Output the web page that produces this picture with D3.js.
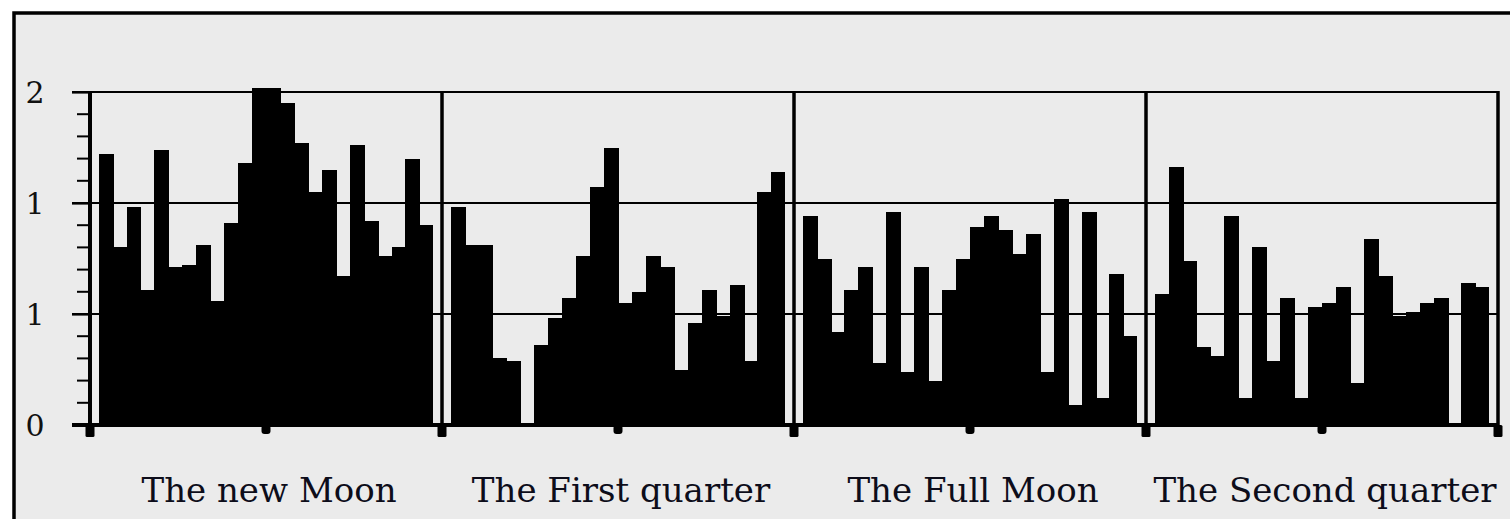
<!DOCTYPE html>
<html>
<head>
<meta charset="utf-8">
<script src="https://cdn.jsdelivr.net/npm/d3@7"></script>
<style>
  html, body { margin: 0; padding: 0; background: #ffffff; }
  svg { display: block; }
</style>
</head>
<body>
<svg id="chart" width="1510" height="519"></svg>
<script>
// ---- data ----
const categories = ["The new Moon", "The First quarter", "The Full Moon", "The Second quarter"];
const newMoon = [1.22, 0.80, 0.98, 0.61, 1.24, 0.71, 0.72, 0.81, 0.56, 0.91, 1.18, 1.52,
                 1.52, 1.45, 1.27, 1.05, 1.15, 0.67, 1.26, 0.92, 0.76, 0.80, 1.20, 0.90];
const firstQuarter = [0.98, 0.81, 0.81, 0.30, 0.29, 0.01, 0.36, 0.48, 0.57, 0.76, 1.07, 1.25,
                      0.55, 0.60, 0.76, 0.71, 0.25, 0.46, 0.61, 0.49, 0.63, 0.29, 1.05, 1.14];
const fullMoon = [0.94, 0.75, 0.42, 0.61, 0.71, 0.28, 0.96, 0.24, 0.71, 0.20, 0.61, 0.75,
                  0.89, 0.94, 0.88, 0.77, 0.86, 0.24, 1.02, 0.09, 0.96, 0.12, 0.68, 0.40];
const secondQuarter = [0.59, 1.16, 0.74, 0.35, 0.31, 0.94, 0.12, 0.80, 0.29, 0.57, 0.12, 0.53,
                       0.55, 0.62, 0.19, 0.84, 0.67, 0.49, 0.51, 0.55, 0.57, 0.01, 0.64, 0.62];
const yTickValues = [0, 0.5, 1, 1.5];
const yTickLabels = ["0", "1", "1", "2"];

const series = [newMoon, firstQuarter, fullMoon, secondQuarter];

// ---- layout ----
const svg = d3.select("#chart");
const W = 1510, H = 519;
const plot = { left: 90, right: 1498, top: 92, bottom: 425 };

// outer frame
svg.append("rect").attr("x", 0).attr("y", 0).attr("width", W).attr("height", H).attr("fill", "#ffffff");
svg.append("rect").attr("x", 14).attr("y", 13).attr("width", W + 20).attr("height", H + 20)
  .attr("fill", "#ebebeb").attr("stroke", "#000").attr("stroke-width", 3.5);

const x = d3.scaleBand().domain(categories).range([plot.left, plot.right]).padding(0);
const y = d3.scaleLinear().domain([0, 1.5]).range([plot.bottom, plot.top]);
const xi = d3.scaleBand().domain(d3.range(24)).range([0, x.bandwidth()])
  .paddingInner(0).paddingOuter(0.62);

// bars
const gBars = svg.append("g").attr("shape-rendering", "crispEdges");
categories.forEach((c, gi) => {
  gBars.selectAll(null).data(series[gi]).join("rect")
    .attr("x", (d, i) => Math.round(x(c) + xi(i)))
    .attr("width", (d, i) => Math.round(x(c) + xi(i) + xi.bandwidth()) - Math.round(x(c) + xi(i)) + (i < 23 ? 1 : 0))
    .attr("y", d => y(d))
    .attr("height", d => y(0) - y(d))
    .attr("fill", "#000");
});

// horizontal gridlines (incl. top)
svg.append("g").selectAll("line").data(yTickValues.filter(v => v > 0)).join("line")
  .attr("x1", plot.left - 18).attr("x2", plot.right)
  .attr("y1", d => y(d)).attr("y2", d => y(d))
  .attr("stroke", "#000").attr("stroke-width", 2.2);

// y axis with minor ticks
const minor = d3.range(0, 1.5001, 0.1);
svg.append("g").selectAll("line").data(minor).join("line")
  .attr("x1", plot.left - 13).attr("x2", plot.left)
  .attr("y1", d => y(d)).attr("y2", d => y(d))
  .attr("stroke", "#000").attr("stroke-width", 2);

const yAxis = d3.axisLeft(y).tickValues(yTickValues)
  .tickFormat((d, i) => yTickLabels[i]).tickSize(18).tickPadding(0);
const gy = svg.append("g").attr("transform", `translate(${plot.left},0)`).call(yAxis);
gy.select(".domain").remove();
gy.selectAll(".tick line").attr("stroke", "#000").attr("stroke-width", 2.2);
gy.selectAll(".tick text")
  .attr("x", -55).attr("text-anchor", "middle").attr("dy", "0.36em")
  .style("font-family", "'DejaVu Serif', serif").style("font-size", "30px")
  .attr("fill", "#111");

// left axis line
svg.append("line").attr("x1", plot.left).attr("x2", plot.left)
  .attr("y1", plot.top - 1).attr("y2", plot.bottom + 6)
  .attr("stroke", "#000").attr("stroke-width", 4);

// vertical dividers and right border
const bounds = categories.map(c => x(c)).concat([plot.right]);
svg.append("g").selectAll("line").data(bounds.slice(1)).join("line")
  .attr("x1", d => d).attr("x2", d => d)
  .attr("y1", plot.top - 1).attr("y2", plot.bottom)
  .attr("stroke", "#000").attr("stroke-width", 3.5);

// baseline
svg.append("line").attr("x1", plot.left - 18).attr("x2", plot.right + 1)
  .attr("y1", y(0)).attr("y2", y(0)).attr("stroke", "#000").attr("stroke-width", 4);

// x-axis tick blobs
svg.append("g").selectAll("rect").data(bounds).join("rect")
  .attr("x", d => d - 4.5).attr("y", plot.bottom).attr("width", 9).attr("height", 12)
  .attr("rx", 1.5).attr("fill", "#000");
svg.append("g").selectAll("rect").data(categories).join("rect")
  .attr("x", c => x(c) + x.bandwidth() / 2 - 4.5).attr("y", plot.bottom)
  .attr("width", 9).attr("height", 9).attr("rx", 3).attr("fill", "#000");

// category labels
svg.append("g").selectAll("text").data(categories).join("text")
  .attr("x", c => x(c) + x.bandwidth() / 2 + 3)
  .attr("y", 502)
  .attr("text-anchor", "middle")
  .style("font-family", "'DejaVu Serif', serif").style("font-size", "34px")
  .attr("fill", "#0d0d1a")
  .text(c => c);
</script>
</body>
</html>
